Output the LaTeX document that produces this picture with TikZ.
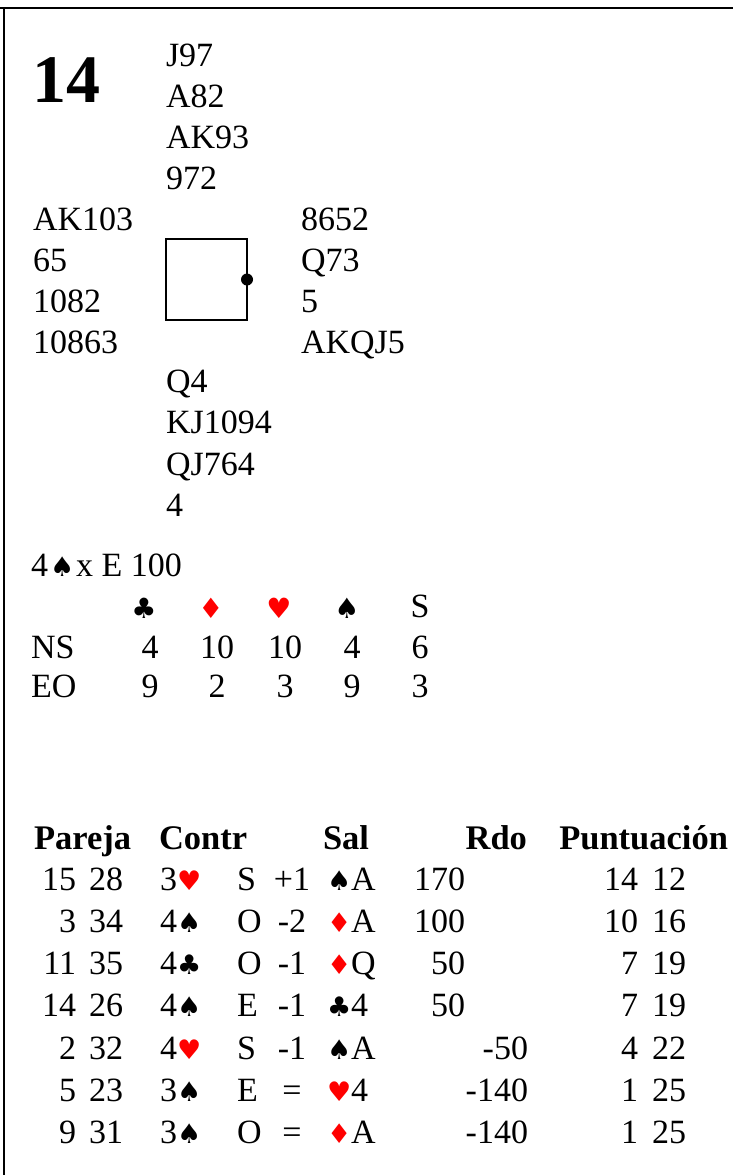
\documentclass[tikz,border=0pt]{standalone}
\usepackage{fontspec}
\setmainfont{Liberation Serif}
\newfontfamily\suitfont{DejaVu Sans}
\definecolor{suitred}{RGB}{255,0,0}
\newcommand{\suitS}[1][27]{{\suitfont\fontsize{#1}{#1}\selectfont ♠}}
\newcommand{\suitC}[1][27]{{\suitfont\fontsize{#1}{#1}\selectfont ♣}}
\newcommand{\suitH}[1][27]{{\suitfont\fontsize{#1}{#1}\selectfont\color{suitred}♥}}
\newcommand{\suitD}[1][27]{{\suitfont\fontsize{#1}{#1}\selectfont\color{suitred}♦}}
\begin{document}
\begin{tikzpicture}[x=1pt,y=-1pt,
  every node/.style={inner sep=0pt,outer sep=0pt,font=\fontsize{34}{41}\selectfont},
  lt/.style={anchor=base west},
  rt/.style={anchor=base east},
  ct/.style={anchor=base},
  hd/.style={font=\fontsize{34.5}{41}\selectfont\bfseries},
  frame/.style={line width=1.5pt}]
\useasboundingbox (0,0) rectangle (733,1175);
% frame
\coordinate (tl) at (0,8);
\coordinate (tr) at (733,8);
\coordinate (lt0) at (4,8);
\coordinate (lb) at (4,1175);
\draw[frame] (tl) -- (tr);
\draw[frame] (lt0) -- (lb);
% board number
\node[lt,font=\fontsize{68}{68}\selectfont\bfseries] (num) at (32,102) {14};
% North
\node[lt] (n1) at (166,66.5) {J97};
\node[lt] (n2) at (166,107.5) {A82};
\node[lt] (n3) at (166,148.5) {AK93};
\node[lt] (n4) at (166,189.5) {972};
% West
\node[lt] (w1) at (33,230) {AK103};
\node[lt] (w2) at (33,271) {65};
\node[lt] (w3) at (33,312) {1082};
\node[lt] (w4) at (33,353) {10863};
% East
\node[lt] (e1) at (301,230) {8652};
\node[lt] (e2) at (301,271) {Q73};
\node[lt] (e3) at (301,312) {5};
\node[lt] (e4) at (301,353) {AKQJ5};
% South
\node[lt] (s1) at (166,392) {Q4};
\node[lt] (s2) at (166,433.5) {KJ1094};
\node[lt] (s3) at (166,475) {QJ764};
\node[lt] (s4) at (166,516) {4};
% board box and dealer
\node[draw,line width=1.2pt,minimum width=81pt,minimum height=81pt] (board) at (206.5,279.5) {};
\node[circle,fill=black,minimum size=12pt] (dealer) at (board.east) {};
% contract
\node[lt] (contract) at (31,576) {4\hspace{2pt}\suitS\hspace{2pt}x E 100};
% par table
\node[ct] (hc) at (144,618) {\suitC[28]};
\node[ct] (hdm) at (211,618) {\suitD[28]};
\node[ct] (hh) at (279,618) {\suitH[28]};
\node[ct] (hs) at (347,618) {\suitS[28]};
\node[ct] (hn) at (420,617) {S};
\node[lt] (ns) at (31,658) {NS};
\node[lt] (eo) at (31,697) {EO};
\foreach \j/\x/\u/\v in {1/150/4/9,2/217/10/2,3/285/10/3,4/352/4/9,5/420/6/3}{
  \node[ct] (ns\j) at (\x,658) {\u};
  \node[ct] (eo\j) at (\x,697) {\v};
}
% results header
\node[lt,hd] (hpar) at (34,849.5) {Pareja};
\node[lt,hd] (hcon) at (159,849.5) {Contr};
\node[lt,hd] (hsal) at (323,849.5) {Sal};
\node[rt,hd] (hrdo) at (527,849.5) {Rdo};
\node[rt,hd] (hpun) at (728,849.5) {Puntuación};
% results rows
\foreach \i/\y/\a/\b/\ct/\dc/\rs/\ld/\rd/\rx/\pa/\pb in {
  1/890.5/15/28/{3\suitH}/S/+1/{\suitS A}/170/465/14/12,
  2/932.5/3/34/{4\suitS}/O/-2/{\suitD A}/100/465/10/16,
  3/974.5/11/35/{4\suitC}/O/-1/{\suitD Q}/50/465/7/19,
  4/1016.5/14/26/{4\suitS}/E/-1/{\suitC 4}/50/465/7/19,
  5/1059.5/2/32/{4\suitH}/S/-1/{\suitS A}/-50/528/4/22,
  6/1101.5/5/23/{3\suitS}/E/=/{\suitH 4}/-140/528/1/25,
  7/1143.5/9/31/{3\suitS}/O/=/{\suitD A}/-140/528/1/25}{
  \node[rt] (ra\i) at (76,\y) {\a};
  \node[rt] (rb\i) at (123,\y) {\b};
  \node[lt] (rc\i) at (160,\y) {\ct};
  \node[lt] (rd\i) at (237,\y) {\dc};
  \node[ct] (rr\i) at (292,\y) {\rs};
  \node[lt] (rl\i) at (327,\y) {\ld};
  \node[rt] (rs\i) at (\rx,\y) {\rd};
  \node[rt] (rp\i) at (638,\y) {\pa};
  \node[rt] (rq\i) at (686,\y) {\pb};
}
\end{tikzpicture}
\end{document}
